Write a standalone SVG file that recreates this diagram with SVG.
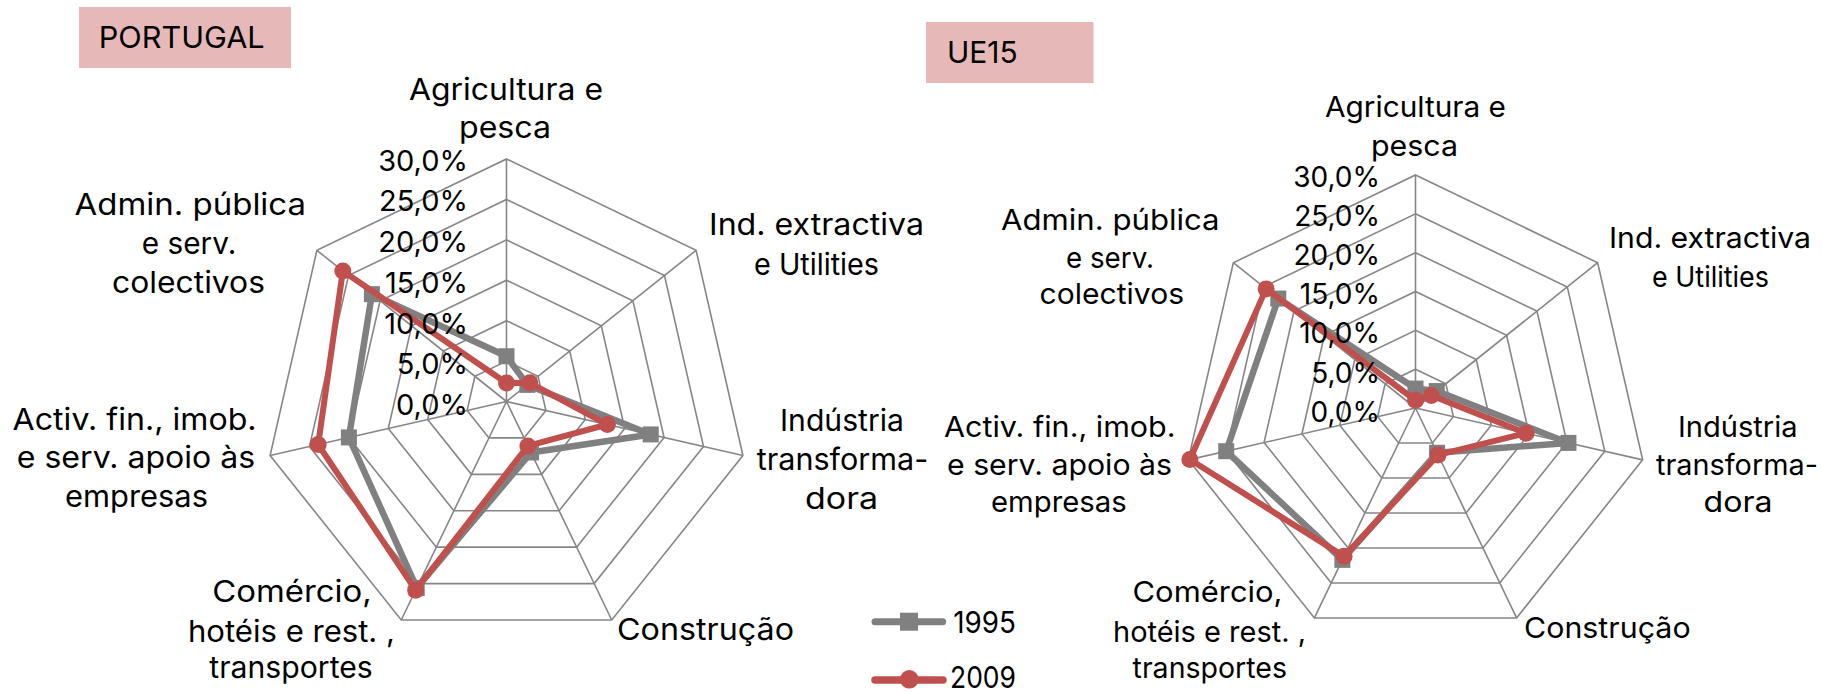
<svg xmlns="http://www.w3.org/2000/svg" width="1823" height="693" viewBox="0 0 1823 693">
<style>
text{font-family:Inter,"Liberation Sans",Arial,sans-serif;font-size:30px;fill:#000}
.lab{text-anchor:middle}
.r .lab{font-size:29px}
.tick{text-anchor:end;font-size:29px}
.r .tick{font-size:28px}
.grid{fill:none;stroke:#868686;stroke-width:1.6}
.s95{fill:none;stroke:#808080;stroke-width:6.5;stroke-linejoin:round}
.s09{fill:none;stroke:#C0504D;stroke-width:6;stroke-linejoin:round}
.m95{fill:#808080}
.m09{fill:#C0504D}
.box{fill:#E6B9B8}
</style>
<defs>
<rect id="sq" x="-8" y="-8" width="16" height="16" class="m95"/>
<circle id="ci" r="8.5" class="m09"/>
</defs>
<rect width="1823" height="693" fill="#fff"/>

<g id="chart-portugal">
<g id="title-portugal"><rect class="box" x="79" y="7" width="212" height="61"/><text x="98.7" y="48.3" font-size="31" textLength="166" lengthAdjust="spacingAndGlyphs">PORTUGAL</text></g>
<g transform="translate(506.5,401.5)">
<g class="grid">
<polygon points="0,-40.42 31.60,-25.20 39.40,8.99 17.54,36.41 -17.54,36.41 -39.40,8.99 -31.60,-25.20"/>
<polygon points="0,-80.83 63.20,-50.40 78.81,17.99 35.07,72.83 -35.07,72.83 -78.81,17.99 -63.20,-50.40"/>
<polygon points="0,-121.25 94.80,-75.60 118.21,26.98 52.61,109.24 -52.61,109.24 -118.21,26.98 -94.80,-75.60"/>
<polygon points="0,-161.67 126.40,-100.80 157.61,35.97 70.15,145.66 -70.15,145.66 -157.61,35.97 -126.40,-100.80"/>
<polygon points="0,-202.08 157.99,-126.00 197.02,44.97 87.68,182.08 -87.68,182.08 -197.02,44.97 -157.99,-126.00"/>
<polygon points="0,-242.5 189.59,-151.20 236.42,53.96 105.22,218.49 -105.22,218.49 -236.42,53.96 -189.59,-151.20"/>
<path d="M0,0L0,-242.5M0,0L189.59,-151.20M0,0L236.42,53.96M0,0L105.22,218.49M0,0L-105.22,218.49M0,0L-236.42,53.96M0,0L-189.59,-151.20"/>
</g>
<g id="series-portugal-1995">
<polygon class="s95" points="0,-45.27 20.86,-16.63 144.22,32.92 24.55,50.98 -89.78,186.44 -157.61,35.97 -134.61,-107.35"/>
<use href="#sq" x="0" y="-45.27"/><use href="#sq" x="20.86" y="-16.63"/><use href="#sq" x="144.22" y="32.92"/><use href="#sq" x="24.55" y="50.98"/><use href="#sq" x="-89.78" y="186.44"/><use href="#sq" x="-157.61" y="35.97"/><use href="#sq" x="-134.61" y="-107.35"/>
</g>
<g id="series-portugal-2009">
<polygon class="s09" points="0,-18.59 23.38,-18.65 100.87,23.02 21.39,44.43 -90.84,188.63 -188.35,42.99 -163.68,-130.53"/>
<use href="#ci" x="0" y="-18.59"/><use href="#ci" x="23.38" y="-18.65"/><use href="#ci" x="100.87" y="23.02"/><use href="#ci" x="21.39" y="44.43"/><use href="#ci" x="-90.84" y="188.63"/><use href="#ci" x="-188.35" y="42.99"/><use href="#ci" x="-163.68" y="-130.53"/>
</g>
</g>
<g id="ticks-portugal">
<text class="tick" x="468" y="170.5">30,0%</text>
<text class="tick" x="468" y="211.25">25,0%</text>
<text class="tick" x="468" y="252">20,0%</text>
<text class="tick" x="468" y="292.75">15,0%</text>
<text class="tick" x="468" y="333.5">10,0%</text>
<text class="tick" x="468" y="374.25">5,0%</text>
<text class="tick" x="468" y="415">0,0%</text>
</g>
<g id="pt-agri"><text class="lab" x="506" y="99.5" textLength="194" lengthAdjust="spacingAndGlyphs">Agricultura e</text><text class="lab" x="505" y="138" textLength="92" lengthAdjust="spacingAndGlyphs">pesca</text></g>
<g id="pt-ind"><text class="lab" x="816.5" y="235" textLength="215" lengthAdjust="spacingAndGlyphs">Ind. extractiva</text><text class="lab" x="816.5" y="275" textLength="125" lengthAdjust="spacingAndGlyphs">e Utilities</text></g>
<g id="pt-transf"><text class="lab" x="842" y="431" textLength="124" lengthAdjust="spacingAndGlyphs">Indústria</text><text class="lab" x="842.5" y="470" textLength="171.5" lengthAdjust="spacingAndGlyphs">transforma-</text><text class="lab" x="841.5" y="509" textLength="73" lengthAdjust="spacingAndGlyphs">dora</text></g>
<g id="pt-constr"><text class="lab" x="705.5" y="640" textLength="177" lengthAdjust="spacingAndGlyphs">Construção</text></g>
<g id="pt-comercio"><text class="lab" x="292" y="601.7" textLength="159.6" lengthAdjust="spacingAndGlyphs">Comércio,</text><text class="lab" x="291.5" y="641.7" textLength="207" lengthAdjust="spacingAndGlyphs">hotéis e rest. ,</text><text class="lab" x="291" y="678" textLength="163.5" lengthAdjust="spacingAndGlyphs">transportes</text></g>
<g id="pt-activ"><text class="lab" x="134.6" y="430" textLength="244" lengthAdjust="spacingAndGlyphs">Activ. fin., imob.</text><text class="lab" x="136" y="468.3" textLength="238.5" lengthAdjust="spacingAndGlyphs">e serv. apoio às</text><text class="lab" x="136.5" y="506.7" textLength="143" lengthAdjust="spacingAndGlyphs">empresas</text></g>
<g id="pt-admin"><text class="lab" x="190.3" y="215" textLength="231.4" lengthAdjust="spacingAndGlyphs">Admin. pública</text><text class="lab" x="189" y="254" textLength="94.5" lengthAdjust="spacingAndGlyphs">e serv.</text><text class="lab" x="188.5" y="293" textLength="153" lengthAdjust="spacingAndGlyphs">colectivos</text></g>
</g>

<g id="chart-ue15" class="r">
<g id="title-ue15"><rect class="box" x="926" y="22" width="167.5" height="61"/><text x="947" y="63.3" textLength="70.7" lengthAdjust="spacingAndGlyphs">UE15</text></g>
<g transform="translate(1415.5,408)">
<g class="grid">
<polygon points="0,-38.83 30.36,-24.21 37.86,8.64 16.85,34.99 -16.85,34.99 -37.86,8.64 -30.36,-24.21"/>
<polygon points="0,-77.67 60.72,-48.42 75.72,17.28 33.70,69.98 -33.70,69.98 -75.72,17.28 -60.72,-48.42"/>
<polygon points="0,-116.5 91.08,-72.64 113.58,25.92 50.55,104.96 -50.55,104.96 -113.58,25.92 -91.08,-72.64"/>
<polygon points="0,-155.33 121.44,-96.85 151.44,34.56 67.40,139.95 -67.40,139.95 -151.44,34.56 -121.44,-96.85"/>
<polygon points="0,-194.17 151.81,-121.06 189.30,43.21 84.25,174.94 -84.25,174.94 -189.30,43.21 -151.81,-121.06"/>
<polygon points="0,-233 182.17,-145.27 227.16,51.85 101.10,209.93 -101.10,209.93 -227.16,51.85 -182.17,-145.27"/>
<path d="M0,0L0,-233M0,0L182.17,-145.27M0,0L227.16,51.85M0,0L101.10,209.93M0,0L-101.10,209.93M0,0L-227.16,51.85M0,0L-182.17,-145.27"/>
</g>
<g id="series-ue15-1995">
<polygon class="s95" points="0,-19.42 21.25,-16.95 152.95,34.91 21.57,44.79 -73.13,151.85 -189.30,43.21 -137.23,-109.44"/>
<use href="#sq" x="0" y="-19.42"/><use href="#sq" x="21.25" y="-16.95"/><use href="#sq" x="152.95" y="34.91"/><use href="#sq" x="21.57" y="44.79"/><use href="#sq" x="-73.13" y="151.85"/><use href="#sq" x="-189.30" y="43.21"/><use href="#sq" x="-137.23" y="-109.44"/>
</g>
<g id="series-ue15-2009">
<polygon class="s09" points="0,-7.77 15.79,-12.59 110.55,25.23 22.58,46.89 -71.44,148.35 -225.65,51.50 -149.38,-119.12"/>
<use href="#ci" x="0" y="-7.77"/><use href="#ci" x="15.79" y="-12.59"/><use href="#ci" x="110.55" y="25.23"/><use href="#ci" x="22.58" y="46.89"/><use href="#ci" x="-71.44" y="148.35"/><use href="#ci" x="-225.65" y="51.50"/><use href="#ci" x="-149.38" y="-119.12"/>
</g>
</g>
<g id="ticks-ue15">
<text class="tick" x="1380" y="187">30,0%</text>
<text class="tick" x="1380" y="226.1">25,0%</text>
<text class="tick" x="1380" y="265.2">20,0%</text>
<text class="tick" x="1380" y="304.3">15,0%</text>
<text class="tick" x="1380" y="343.4">10,0%</text>
<text class="tick" x="1380" y="382.5">5,0%</text>
<text class="tick" x="1380" y="421.6">0,0%</text>
</g>
<g id="ue-agri"><text class="lab" x="1415.5" y="117.3" textLength="181" lengthAdjust="spacingAndGlyphs">Agricultura e</text><text class="lab" x="1414.5" y="156" textLength="87" lengthAdjust="spacingAndGlyphs">pesca</text></g>
<g id="ue-ind"><text class="lab" x="1710" y="248" textLength="202" lengthAdjust="spacingAndGlyphs">Ind. extractiva</text><text class="lab" x="1710.5" y="286.7" textLength="117" lengthAdjust="spacingAndGlyphs">e Utilities</text></g>
<g id="ue-transf"><text class="lab" x="1737.8" y="436.7" textLength="119.7" lengthAdjust="spacingAndGlyphs">Indústria</text><text class="lab" x="1737" y="475" textLength="162" lengthAdjust="spacingAndGlyphs">transforma-</text><text class="lab" x="1738" y="511.7" textLength="69" lengthAdjust="spacingAndGlyphs">dora</text></g>
<g id="ue-constr"><text class="lab" x="1607.3" y="638.3" textLength="166.6" lengthAdjust="spacingAndGlyphs">Construção</text></g>
<g id="ue-comercio"><text class="lab" x="1207.5" y="601.7" textLength="150" lengthAdjust="spacingAndGlyphs">Comércio,</text><text class="lab" x="1209.5" y="641.7" textLength="193" lengthAdjust="spacingAndGlyphs">hotéis e rest. ,</text><text class="lab" x="1209.8" y="678.3" textLength="154.5" lengthAdjust="spacingAndGlyphs">transportes</text></g>
<g id="ue-activ"><text class="lab" x="1059.8" y="436.7" textLength="231.5" lengthAdjust="spacingAndGlyphs">Activ. fin., imob.</text><text class="lab" x="1059.5" y="475" textLength="225" lengthAdjust="spacingAndGlyphs">e serv. apoio às</text><text class="lab" x="1058.8" y="511.7" textLength="135.6" lengthAdjust="spacingAndGlyphs">empresas</text></g>
<g id="ue-admin"><text class="lab" x="1110.3" y="230" textLength="218.6" lengthAdjust="spacingAndGlyphs">Admin. pública</text><text class="lab" x="1110" y="268" textLength="88" lengthAdjust="spacingAndGlyphs">e serv.</text><text class="lab" x="1111.8" y="304" textLength="144.5" lengthAdjust="spacingAndGlyphs">colectivos</text></g>
</g>

<g id="legend">
<g id="legend-1995"><line x1="875" y1="621.7" x2="942.7" y2="621.7" stroke="#808080" stroke-width="7" stroke-linecap="round"/><rect x="900" y="612.7" width="18" height="18" class="m95"/><text x="953.3" y="633.3" font-size="32" textLength="62.7" lengthAdjust="spacingAndGlyphs">1995</text></g>
<g id="legend-2009"><line x1="875" y1="680" x2="943" y2="680" stroke="#C0504D" stroke-width="7.5" stroke-linecap="round"/><circle cx="909.3" cy="679.3" r="9.3" class="m09"/><text x="950" y="688.3" font-size="32" textLength="66" lengthAdjust="spacingAndGlyphs">2009</text></g>
</g>
</svg>
